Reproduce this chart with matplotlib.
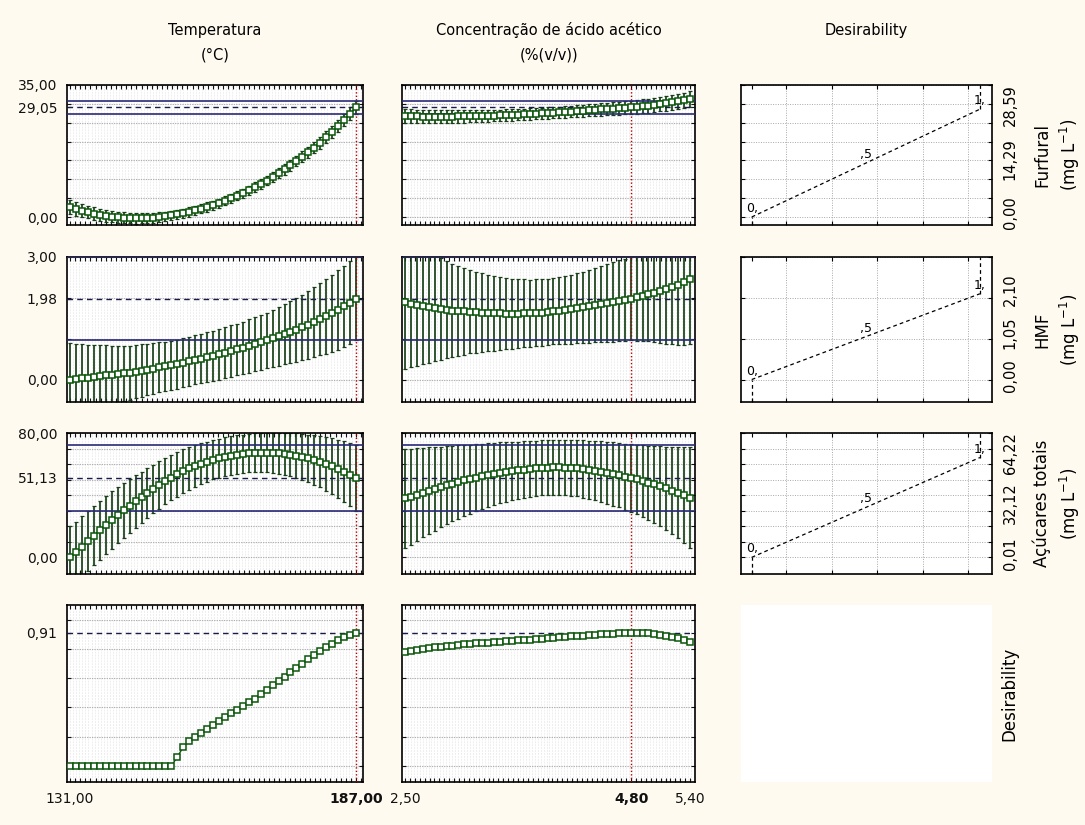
import numpy as np
import matplotlib
matplotlib.use('Agg')
import matplotlib.pyplot as plt
import matplotlib.transforms as mtransforms

plt.rcParams['font.family'] = 'DejaVu Sans'

# ---------------- dados ----------------
temp = [131.00, 132.17, 133.33, 134.50, 135.67, 136.83, 138.00, 139.17, 140.33, 141.50,
        142.67, 143.83, 145.00, 146.17, 147.33, 148.50, 149.67, 150.83, 152.00, 153.17,
        154.33, 155.50, 156.67, 157.83, 159.00, 160.17, 161.33, 162.50, 163.67, 164.83,
        166.00, 167.17, 168.33, 169.50, 170.67, 171.83, 173.00, 174.17, 175.33, 176.50,
        177.67, 178.83, 180.00, 181.17, 182.33, 183.50, 184.67, 185.83, 187.00]
acido = [2.500, 2.560, 2.621, 2.681, 2.742, 2.802, 2.863, 2.923, 2.983, 3.044,
         3.104, 3.165, 3.225, 3.285, 3.346, 3.406, 3.467, 3.527, 3.588, 3.648,
         3.708, 3.769, 3.829, 3.890, 3.950, 4.010, 4.071, 4.131, 4.192, 4.252,
         4.313, 4.373, 4.433, 4.494, 4.554, 4.615, 4.675, 4.735, 4.796, 4.856,
         4.917, 4.977, 5.037, 5.098, 5.158, 5.219, 5.279, 5.340, 5.400]

# Furfural
fur_t = [2.6, 2.1, 1.7, 1.3, 0.9, 0.6, 0.3, 0.1, -0.1, -0.2, -0.3, -0.35, -0.35, -0.3, -0.2,
         -0.05, 0.15, 0.4, 0.7, 1.0, 1.35, 1.75, 2.2, 2.65, 3.15, 3.7, 4.3, 4.95, 5.6, 6.3,
         7.1, 7.9, 8.75, 9.65, 10.6, 11.6, 12.6, 13.7, 14.8, 15.95, 17.15, 18.4, 19.7, 21.1,
         22.55, 24.1, 25.7, 27.35, 29.05]
fur_t_ic = [1.80, 1.75, 1.70, 1.66, 1.62, 1.58, 1.54, 1.50, 1.47, 1.43, 1.40, 1.38, 1.35,
            1.33, 1.30, 1.28, 1.27, 1.25, 1.24, 1.23, 1.22, 1.21, 1.20, 1.20, 1.20, 1.20,
            1.21, 1.21, 1.22, 1.23, 1.24, 1.25, 1.27, 1.28, 1.30, 1.33, 1.35, 1.38, 1.40,
            1.43, 1.47, 1.50, 1.54, 1.58, 1.62, 1.66, 1.70, 1.75, 1.80]
fur_a = [26.70, 26.68, 26.66, 26.64, 26.62, 26.60, 26.60, 26.61, 26.63, 26.65, 26.68, 26.72,
         26.76, 26.80, 26.85, 26.90, 26.96, 27.02, 27.09, 27.16, 27.23, 27.31, 27.39, 27.47,
         27.56, 27.65, 27.75, 27.85, 27.95, 28.05, 28.16, 28.28, 28.40, 28.52, 28.64, 28.76,
         28.84, 28.95, 29.05, 29.20, 29.36, 29.53, 29.72, 29.93, 30.16, 30.41, 30.67, 30.95, 31.25]
fur_a_ic = [1.90, 1.87, 1.84, 1.81, 1.78, 1.75, 1.72, 1.70, 1.67, 1.65, 1.63, 1.61, 1.59,
            1.57, 1.56, 1.54, 1.53, 1.52, 1.51, 1.50, 1.50, 1.50, 1.50, 1.50, 1.51, 1.52,
            1.53, 1.54, 1.55, 1.57, 1.58, 1.60, 1.62, 1.64, 1.66, 1.68, 1.70, 1.72, 1.75,
            1.78, 1.81, 1.84, 1.87, 1.90, 1.93, 1.97, 2.01, 2.05, 2.10]

# HMF
hmf_t = [0.00, 0.01, 0.03, 0.04, 0.06, 0.08, 0.10, 0.11, 0.13, 0.15, 0.17, 0.19, 0.22, 0.24,
         0.27, 0.30, 0.32, 0.35, 0.38, 0.41, 0.45, 0.48, 0.51, 0.55, 0.58, 0.62, 0.66, 0.70,
         0.74, 0.78, 0.82, 0.87, 0.91, 0.96, 1.01, 1.06, 1.11, 1.16, 1.22, 1.28, 1.34, 1.41,
         1.48, 1.55, 1.62, 1.70, 1.79, 1.88, 1.98]
hmf_t_ic = [0.90, 0.87, 0.84, 0.81, 0.78, 0.76, 0.74, 0.72, 0.70, 0.68, 0.66, 0.65, 0.64,
            0.63, 0.62, 0.61, 0.60, 0.60, 0.60, 0.60, 0.60, 0.60, 0.60, 0.61, 0.61, 0.62,
            0.62, 0.63, 0.63, 0.64, 0.65, 0.66, 0.67, 0.68, 0.70, 0.72, 0.74, 0.76, 0.78,
            0.80, 0.83, 0.86, 0.89, 0.92, 0.94, 0.97, 0.99, 1.01, 1.02]
hmf_a = [1.90, 1.86, 1.83, 1.80, 1.77, 1.75, 1.73, 1.71, 1.69, 1.68, 1.67, 1.66, 1.65, 1.64,
         1.63, 1.62, 1.62, 1.61, 1.61, 1.61, 1.62, 1.62, 1.63, 1.64, 1.65, 1.67, 1.68, 1.70,
         1.72, 1.75, 1.77, 1.79, 1.82, 1.84, 1.87, 1.90, 1.93, 1.95, 1.98, 2.01, 2.05, 2.09,
         2.13, 2.17, 2.21, 2.26, 2.32, 2.39, 2.47]
hmf_a_ic = [1.63, 1.56, 1.49, 1.42, 1.36, 1.30, 1.24, 1.19, 1.14, 1.10, 1.06, 1.02, 0.99,
            0.96, 0.93, 0.91, 0.89, 0.87, 0.86, 0.84, 0.83, 0.82, 0.82, 0.81, 0.81, 0.81,
            0.82, 0.83, 0.84, 0.86, 0.87, 0.89, 0.91, 0.93, 0.95, 0.97, 0.99, 1.00, 1.02,
            1.06, 1.10, 1.15, 1.21, 1.27, 1.33, 1.40, 1.47, 1.54, 1.61]

# Açúcares totais
acu_t = [0.0, 3.2, 6.9, 10.5, 14.0, 17.4, 20.7, 24.0, 27.1, 30.2, 33.1, 36.0, 38.8, 41.5,
         44.1, 46.6, 49.0, 51.3, 53.4, 55.4, 57.2, 58.8, 60.3, 61.6, 62.8, 63.8, 64.7, 65.5,
         66.1, 66.6, 67.0, 67.3, 67.4, 67.4, 67.2, 67.0, 66.6, 66.1, 65.4, 64.6, 63.7, 62.7,
         61.5, 60.2, 58.7, 57.0, 55.1, 53.2, 51.13]
acu_t_ic = [20.0, 19.8, 19.6, 19.4, 19.2, 19.0, 18.7, 18.4, 18.0, 17.6, 17.2, 16.8, 16.4,
            16.0, 15.6, 15.2, 14.9, 14.6, 14.3, 14.0, 13.7, 13.4, 13.1, 12.9, 12.7, 12.6,
            12.5, 12.4, 12.4, 12.4, 12.4, 12.5, 12.6, 12.8, 13.0, 13.3, 13.6, 13.9, 14.3,
            14.8, 15.3, 15.9, 16.5, 17.2, 18.0, 18.8, 19.6, 20.4, 21.1]
acu_a = [37.9, 39.0, 40.3, 41.6, 42.9, 44.1, 45.3, 46.4, 47.5, 48.5, 49.5, 50.4, 51.3, 52.1,
         52.9, 53.6, 54.3, 54.9, 55.5, 56.0, 56.5, 56.9, 57.3, 57.6, 57.8, 57.9, 57.9, 57.8,
         57.6, 57.3, 56.9, 56.4, 55.8, 55.1, 54.4, 53.6, 52.8, 51.9, 51.13, 50.1, 49.1, 48.0,
         46.9, 45.7, 44.4, 43.0, 41.6, 40.1, 38.5]
acu_a_ic = [32.0, 30.9, 29.8, 28.8, 27.8, 26.9, 26.0, 25.2, 24.4, 23.6, 22.9, 22.2, 21.6,
            21.0, 20.5, 20.0, 19.6, 19.2, 18.8, 18.5, 18.2, 18.0, 17.8, 17.6, 17.5, 17.5,
            17.6, 17.7, 17.9, 18.1, 18.4, 18.7, 19.1, 19.5, 19.9, 20.3, 20.7, 21.2, 21.7,
            22.3, 23.0, 23.8, 24.7, 25.7, 26.8, 28.0, 29.3, 30.8, 32.5]

# Desirability global
des_t = [0, 0, 0, 0, 0, 0, 0, 0, 0, 0, 0, 0, 0, 0, 0, 0, 0, 0, 0.06, 0.13, 0.17, 0.20,
         0.225, 0.25, 0.28, 0.31, 0.335, 0.36, 0.385, 0.41, 0.435, 0.46, 0.49, 0.52, 0.55,
         0.58, 0.61, 0.64, 0.67, 0.70, 0.73, 0.76, 0.785, 0.81, 0.835, 0.86, 0.88, 0.895, 0.91]
des_a = [0.780, 0.787, 0.793, 0.799, 0.805, 0.810, 0.815, 0.819, 0.823, 0.827, 0.830, 0.834,
         0.837, 0.840, 0.843, 0.846, 0.849, 0.852, 0.855, 0.858, 0.861, 0.864, 0.867, 0.870,
         0.873, 0.876, 0.879, 0.882, 0.885, 0.888, 0.891, 0.894, 0.897, 0.900, 0.903, 0.905,
         0.907, 0.909, 0.910, 0.910, 0.909, 0.906, 0.902, 0.896, 0.889, 0.880, 0.871, 0.861, 0.850]

# valores no ponto ótimo (T = 187, ácido = 4,80)
atual = [187.0, 4.80]
previsto = [29.05, 1.98, 51.13, 0.91]
ic_inf = [27.3, 0.96, 30.0]
ic_sup = [30.8, 3.00, 72.2]

# funções de desirability individuais (baixo, médio, alto)
resp_niveis = [[0.00, 14.29, 28.59], [0.00, 1.05, 2.10], [0.01, 32.12, 64.22]]
resp_nomes = ['Furfural', 'HMF', 'Açúcares totais']
des_niveis = [0.0, 0.5, 1.0]
des_rotulos = ['0,', ',5', '1,']

titulos = [['Temperatura', '(°C)'], ['Concentração de ácido acético', '(%(v/v))'], ['Desirability']]

# ---------------- layout ----------------
W, H = 1085, 825
FUNDO = '#fffaf0'
VERDE = '#0a560a'
BARRA = '#173f17'

fig = plt.figure(figsize=(W / 100, H / 100), dpi=100, facecolor=FUNDO)


def eixo_px(x0, x1, y0, y1):
    return fig.add_axes([x0 / W, 1 - y1 / H, (x1 - x0) / W, (y1 - y0) / H])


def fmt(v):
    return f'{v:.2f}'.replace('.', ',')


col_px = [(67, 363), (402, 695), (741, 992)]
lin_px = [(85, 225), (257, 402), (433, 574), (605, 782)]
lim_y = [(-2.12, 35.0), (-0.55, 3.0), (-10.7, 80.0), (-0.11, 1.10)]
passo_y = [5, 1, 10, 0.2]
lim_x = [(130.41, 188.37), (2.47, 5.45)]
fino_x = [0.6, 0.03]
menor_x = [1.0, 0.05]
fatores = [temp, acido]
medias = [[fur_t, fur_a], [hmf_t, hmf_a], [acu_t, acu_a], [des_t, des_a]]
ics = [[fur_t_ic, fur_a_ic], [hmf_t_ic, hmf_a_ic], [acu_t_ic, acu_a_ic], [None, None]]
ticks_x = [[131.0, 187.0], [2.50, 4.80, 5.40]]

for r in range(4):
    y0, y1 = lim_y[r]
    for c in range(2):
        ax = eixo_px(*col_px[c], *lin_px[r])
        ax.set_facecolor('white')
        ax.set_xlim(lim_x[c])
        ax.set_ylim(y0, y1)
        # grade fina pontilhada
        ax.vlines(np.arange(lim_x[c][0], lim_x[c][1], fino_x[c]), y0, y1, colors='#c8c8c8',
                  linewidths=0.5, linestyles=[(0, (0.6, 1.6))], zorder=0)
        principais = np.arange(0, y1 + 1e-6, passo_y[r])
        ax.hlines(principais, *lim_x[c], colors='#b0b0b0', linewidths=0.8,
                  linestyles=[(0, (1.2, 1.0))], zorder=0.5)

        ax.axvline(atual[c], color='#b00000', lw=1, ls=(0, (1, 1.5)), zorder=3)
        ax.axhline(previsto[r], color='#1a1a4a', lw=1, ls=(0, (4, 3)), zorder=3)
        if r < 3:
            ax.axhline(ic_inf[r], color='#2a2a78', lw=1.2, zorder=3)
            ax.axhline(ic_sup[r], color='#2a2a78', lw=1.2, zorder=3)
            ax.errorbar(fatores[c], medias[r][c], yerr=ics[r][c], fmt='none', ecolor=BARRA,
                        elinewidth=1.25, capsize=1.3, capthick=0.9, zorder=2)
        ax.plot(fatores[c], medias[r][c], color=VERDE, lw=1, marker='s', ms=4.8,
                mfc='white', mec=VERDE, mew=1.1, zorder=5)

        for s in ax.spines.values():
            s.set_linewidth(1.2)

        yt = sorted(list(principais) + [previsto[r]])
        ax.set_yticks(yt)
        if c == 0:
            rot = []
            for v in yt:
                if abs(v) < 1e-9 and r < 3:
                    rot.append(fmt(0))
                elif abs(v - previsto[r]) < 1e-9 or (r < 3 and abs(v - y1) < 1e-9):
                    rot.append(fmt(v))
                else:
                    rot.append('')
            ax.set_yticklabels(rot)
        else:
            ax.set_yticklabels([])
        ax.set_xticks(ticks_x[c])
        ax.set_xticks(np.arange(np.ceil(lim_x[c][0] / menor_x[c]) * menor_x[c], lim_x[c][1],
                                menor_x[c]), minor=True)
        if r == 3:
            ax.set_xticklabels([fmt(v) for v in ticks_x[c]])
            for lab, v in zip(ax.get_xticklabels(), ticks_x[c]):
                if abs(v - atual[c]) < 1e-9:
                    lab.set_fontweight('bold')
        else:
            ax.set_xticklabels([])
        ax.tick_params(which='both', direction='in', top=True, right=True, length=3,
                       width=0.8, labelsize=10, pad=7, colors='#111111')

# coluna de desirability individual
for r in range(4):
    ax = eixo_px(*col_px[2], *lin_px[r])
    ax.set_facecolor('white')
    if r == 3:
        for s in ax.spines.values():
            s.set_visible(False)
        ax.set_xticks([])
        ax.set_yticks([])
        ax.text(1.07, 0.5, 'Desirability', rotation=90, ha='center', va='center',
                fontsize=12, transform=ax.transAxes)
        continue
    y0, y1 = lim_y[r]
    ax.set_xlim(-0.047, 1.053)
    ax.set_ylim(y0, y1)
    gx = [0.15, 0.35, 0.55, 0.75, 0.95]
    gy = np.arange(0, y1 + 1e-6, passo_y[r])
    ax.vlines(gx, y0, y1, colors='#a8a8a8', linewidths=0.7, linestyles=[(0, (1, 1.5))], zorder=0)
    ax.hlines(gy, -0.047, 1.053, colors='#a8a8a8', linewidths=0.7,
              linestyles=[(0, (1, 1.5))], zorder=0)
    ax.set_xticks([0.0] + gx)
    ax.set_yticks(gy)
    ax.set_xticklabels([])
    ax.set_yticklabels([])
    ax.tick_params(direction='in', top=True, right=True, length=3, width=0.8)
    for s in ax.spines.values():
        s.set_linewidth(1.2)

    niv = resp_niveis[r]
    ax.plot(des_niveis, niv, color='black', lw=0.9, ls=(0, (3, 2.5)))
    ax.plot([des_niveis[0], des_niveis[0]], [y0, niv[0]], color='black', lw=0.9, ls=(0, (3, 2.5)))
    ax.plot([des_niveis[-1], des_niveis[-1]], [niv[-1], y1], color='black', lw=0.9, ls=(0, (3, 2.5)))
    acima = mtransforms.offset_copy(ax.transData, fig=fig, y=2, units='dots')
    for d, v, t in zip(des_niveis, niv, des_rotulos):
        ax.text(d, v, t, ha='center', va='bottom', fontsize=9, transform=acima)

    lado = mtransforms.blended_transform_factory(ax.transAxes, ax.transData)
    lado = mtransforms.offset_copy(lado, fig=fig, y=4, units='dots')
    for v in niv:
        ax.text(1.072, v, fmt(v), rotation=90, ha='center', va='center', fontsize=10.5,
                transform=lado)
    ax.text(1.199, 0.5, resp_nomes[r], rotation=90, ha='center', va='center', fontsize=12,
            transform=ax.transAxes)
    ax.text(1.311, 0.5, '(mg L$^{-1}$)', rotation=90, ha='center', va='center', fontsize=12,
            transform=ax.transAxes)

# títulos das colunas
centros = [215, 549, 866]
for cx, linhas in zip(centros, titulos):
    for k, t in enumerate(linhas):
        fig.text(cx / W, 1 - (30 + 25 * k) / H, t, ha='center', va='center', fontsize=10.5)

fig.savefig('out.png', dpi=100, facecolor=FUNDO)
